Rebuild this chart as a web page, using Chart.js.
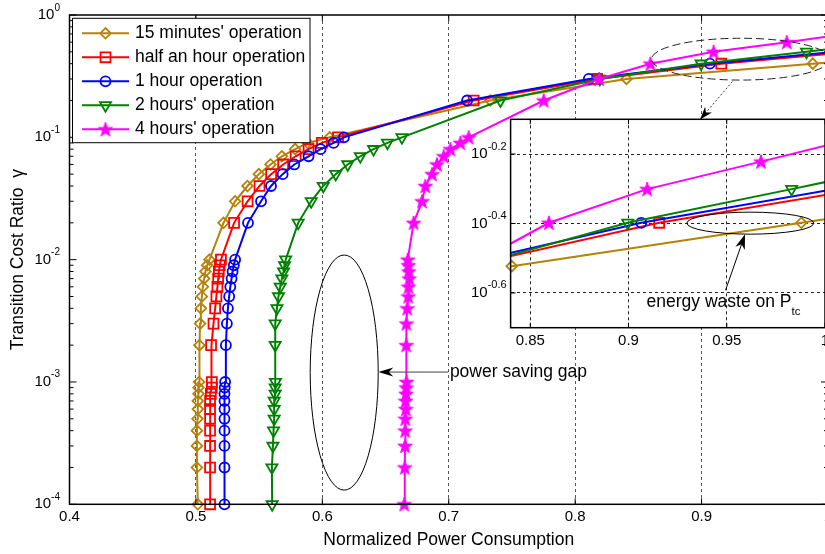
<!DOCTYPE html>
<html>
<head>
<meta charset="utf-8">
<script src="https://cdn.jsdelivr.net/npm/chart.js@4/dist/chart.umd.min.js"></script>
<style>
  html, body { margin: 0; padding: 0; background: #fff; overflow: hidden; width: 825px; height: 554px; }
  #wrap { position: relative; width: 825px; height: 554px; overflow: hidden; }
  #main { position: absolute; left: 0; top: 0; }
  #inset { position: absolute; left: 460px; top: 105px; }
</style>
</head>
<body>
<div id="wrap">
  <canvas id="main" width="870" height="554"></canvas>
  <canvas id="inset" width="400" height="260"></canvas>
</div>
<script>
// Transition cost ratio (y) shared by every curve
const gamma = [
  1e-4, 2e-4, 3e-4, 4e-4, 5e-4, 6e-4, 7e-4, 8e-4, 9e-4,
  1e-3, 2e-3, 3e-3, 4e-3, 5e-3, 6e-3, 7e-3, 8e-3, 9e-3,
  1e-2, 2e-2, 3e-2, 4e-2, 5e-2, 6e-2, 7e-2, 8e-2, 9e-2,
  0.1, 0.2, 0.3, 0.4, 0.5, 0.6, 0.7, 0.8
];

// Normalized power consumption for each operation period
const xQuarterHour = [
  0.5015, 0.5008, 0.5008, 0.5008, 0.5012, 0.5015, 0.5015, 0.5020, 0.5020,
  0.5025, 0.5028, 0.5033, 0.5039, 0.5047, 0.5055, 0.5065, 0.5075, 0.5089,
  0.5107, 0.5218, 0.5310, 0.5408, 0.5498, 0.5590, 0.5680, 0.5785, 0.5885,
  0.6058, 0.7329, 0.8406, 0.9880, 1.1000
];
const xHalfHour = [
  0.5112, 0.5112, 0.5112, 0.5112, 0.5112, 0.5112, 0.5112, 0.5118, 0.5126,
  0.5126, 0.5120, 0.5139, 0.5152, 0.5162, 0.5170, 0.5176, 0.5181, 0.5189,
  0.5198, 0.5302, 0.5409, 0.5503, 0.5595, 0.5690, 0.5789, 0.5891, 0.5997,
  0.6124, 0.7197, 0.8174, 0.9156, 1.0180
];
const xOneHour = [
  0.5226, 0.5226, 0.5226, 0.5226, 0.5226, 0.5226, 0.5226, 0.5226, 0.5228,
  0.5231, 0.5237, 0.5245, 0.5253, 0.5263, 0.5272, 0.5282, 0.5290, 0.5300,
  0.5310, 0.5412, 0.5515, 0.5594, 0.5686, 0.5778, 0.5891, 0.5986, 0.6089,
  0.6171, 0.7145, 0.8108, 0.9065, 1.0050
];
const xTwoHours = [
  0.5603, 0.5601, 0.5609, 0.5614, 0.5619, 0.5619, 0.5619, 0.5627, 0.5627,
  0.5629, 0.5627, 0.5627, 0.5641, 0.5653, 0.5667, 0.5680, 0.5693, 0.5701,
  0.5710, 0.5809, 0.5912, 0.6007, 0.6106, 0.6201, 0.6300, 0.6405, 0.6515,
  0.6630, 0.7409, 0.8195, 0.8996, 0.9830, 1.0500
];
const xFourHours = [
  0.6648, 0.6652, 0.6654, 0.6655, 0.6656, 0.6660, 0.6658, 0.6662, 0.6664,
  0.6666, 0.6664, 0.6665, 0.6672, 0.6680, 0.6682, 0.6688, 0.6684, 0.6680,
  0.6676, 0.6722, 0.6789, 0.6815, 0.6868, 0.6907, 0.6960, 0.7013, 0.7092,
  0.7158, 0.7751, 0.8190, 0.8595, 0.9095, 0.9674, 1.0150, 1.0600
];

const seriesNames = [
  "15 minutes' operation",
  "half an hour operation",
  "1 hour operation",
  "2 hours' operation",
  "4 hours' operation"
];

// Axis ticks
const xTicks = [0.4, 0.5, 0.6, 0.7, 0.8, 0.9, 1];
const yDecades = [-4, -3, -2, -1, 0];
const insetXTicks = [0.85, 0.9, 0.95, 1];
const insetYExponents = [-0.6, -0.4, -0.2];

const FONT = '"Liberation Sans", Arial, Helvetica, sans-serif';
Chart.defaults.font.family = FONT;
Chart.defaults.color = '#000';

// filled five-point star marker
const starMarker = (() => {
  const c = document.createElement('canvas');
  c.width = 18; c.height = 18;
  const g = c.getContext('2d');
  g.beginPath();
  for (let k = 0; k < 10; k++) {
    const r = k % 2 === 0 ? 7.6 : 3.0;
    const a = -Math.PI / 2 + k * Math.PI / 5;
    const px = 9 + r * Math.cos(a), py = 9.6 + r * Math.sin(a);
    if (k) g.lineTo(px, py); else g.moveTo(px, py);
  }
  g.closePath();
  g.fillStyle = '#ff00ff'; g.fill();
  g.strokeStyle = '#ff00ff'; g.lineWidth = 1; g.stroke();
  return c;
})();

const seriesX = [xQuarterHour, xHalfHour, xOneHour, xTwoHours, xFourHours];
const seriesStyle = [
  { color: '#b5820a', pointStyle: 'rectRot', radius: 5.3, rotation: 0 },
  { color: '#ff0000', pointStyle: 'rect', radius: 7, rotation: 0 },
  { color: '#0000ff', pointStyle: 'circle', radius: 5, rotation: 0 },
  { color: '#008000', pointStyle: 'triangle', radius: 6.4, rotation: 180 },
  { color: '#ff00ff', pointStyle: starMarker, radius: 7, rotation: 0 }
];

const toPoints = xs => xs.map((x, i) => ({ x: x, y: gamma[i] }));

function lineDataset(i, extra) {
  const st = seriesStyle[i];
  return Object.assign({
    label: seriesNames[i],
    data: toPoints(seriesX[i]),
    borderColor: st.color,
    backgroundColor: 'rgba(0,0,0,0)',
    borderWidth: 2,
    tension: 0,
    pointStyle: st.pointStyle,
    pointRadius: st.radius,
    pointHoverRadius: st.radius,
    pointRotation: st.rotation,
    pointBorderColor: st.color,
    pointBackgroundColor: 'rgba(0,0,0,0)',
    pointBorderWidth: 1.8,
    order: 4 - i
  }, extra || {});
}

// ---------- drawing helpers ----------
function drawMarker(ctx, st, x, y) {
  ctx.save();
  ctx.strokeStyle = st.color;
  ctx.fillStyle = 'rgba(0,0,0,0)';
  ctx.lineWidth = 1.8;
  if (Chart.helpers && Chart.helpers.drawPoint) {
    Chart.helpers.drawPoint(ctx, { pointStyle: st.pointStyle, radius: st.radius, rotation: st.rotation, borderWidth: 1.8 }, x, y);
  } else if (typeof st.pointStyle === 'object') {
    ctx.drawImage(st.pointStyle, x - st.pointStyle.width / 2, y - st.pointStyle.height / 2);
  } else {
    ctx.beginPath(); ctx.arc(x, y, st.radius, 0, 2 * Math.PI); ctx.stroke();
  }
  ctx.restore();
}

function arrow(ctx, x0, y0, x1, y1, o) {
  const ang = Math.atan2(y1 - y0, x1 - x0);
  const c = Math.cos(ang), s = Math.sin(ang);
  const bx = x1 - o.head * c, by = y1 - o.head * s;
  const nx = x1 - o.head * 0.7 * c, ny = y1 - o.head * 0.7 * s;
  ctx.save();
  ctx.strokeStyle = o.lineColor; ctx.lineWidth = o.lineWidth;
  ctx.setLineDash(o.dash || []);
  ctx.beginPath(); ctx.moveTo(x0, y0); ctx.lineTo(nx, ny); ctx.stroke();
  ctx.setLineDash([]);
  ctx.beginPath();
  ctx.moveTo(x1, y1);
  ctx.lineTo(bx - s * o.half, by + c * o.half);
  ctx.lineTo(nx, ny);
  ctx.lineTo(bx + s * o.half, by - c * o.half);
  ctx.closePath();
  ctx.fillStyle = o.headColor; ctx.fill();
  ctx.restore();
}

function powerLabel(ctx, xEnd, y, base, expText, baseSize, expSize, expRaise) {
  ctx.font = expSize + 'px ' + FONT;
  const ew = ctx.measureText(expText).width;
  ctx.fillStyle = '#000';
  ctx.textAlign = 'left';
  ctx.textBaseline = 'alphabetic';
  ctx.fillText(expText, xEnd - ew, y - expRaise);
  ctx.font = baseSize + 'px ' + FONT;
  ctx.textAlign = 'right';
  ctx.textBaseline = 'middle';
  ctx.fillText(base, xEnd - ew, y);
}

// ---------- main plot decorations ----------
const mainDecor = {
  id: 'mainDecor',
  afterDraw(chart) {
    const ctx = chart.ctx;
    const a = chart.chartArea;
    const xs = chart.scales.x, ys = chart.scales.y;
    const X = v => xs.getPixelForValue(v);
    const YL = lg => ys.getPixelForValue(Math.pow(10, lg));

    ctx.save();
    // annotations: power saving gap
    ctx.strokeStyle = '#000'; ctx.lineWidth = 1;
    {
      const cx = X(0.6173), cy = YL(-2.923);
      const rx = X(0.6173 + 0.0269) - cx, ry = YL(-2.923 - 0.961) - cy;
      ctx.beginPath(); ctx.ellipse(cx, cy, rx, ry, 0, 0, 2 * Math.PI); ctx.stroke();
      arrow(ctx, X(0.6995), YL(-2.919), X(0.6443), YL(-2.919),
        { lineColor: '#444', lineWidth: 1, headColor: '#000', head: 15, half: 4.5 });
      ctx.fillStyle = '#000';
      ctx.font = '17.5px ' + FONT;
      ctx.textAlign = 'left'; ctx.textBaseline = 'middle';
      ctx.fillText('power saving gap', X(0.7009), YL(-2.919));
    }
    // dashed ellipse around the high-ratio region and pointer to the zoomed view
    {
      const cx = X(0.9309), cy = YL(-0.361);
      const rx = X(0.9309 + 0.0705) - cx, ry = YL(-0.361 - 0.171) - cy;
      ctx.save();
      ctx.setLineDash([8, 4]);
      ctx.strokeStyle = '#222'; ctx.lineWidth = 1;
      ctx.beginPath(); ctx.ellipse(cx, cy, rx, ry, 0, 0, 2 * Math.PI); ctx.stroke();
      ctx.restore();
      arrow(ctx, X(0.9243), YL(-0.545), X(0.8988), YL(-0.854),
        { lineColor: '#333', lineWidth: 1, dash: [2, 2], headColor: '#000', head: 13, half: 4.5 });
    }

    // axes box
    ctx.strokeStyle = '#000'; ctx.lineWidth = 1.5;
    ctx.strokeRect(a.left, a.top, a.right - a.left, a.bottom - a.top);
    // inward ticks
    ctx.lineWidth = 1;
    ctx.beginPath();
    xTicks.forEach(v => {
      const p = X(v);
      ctx.moveTo(p, a.bottom); ctx.lineTo(p, a.bottom - 6);
      ctx.moveTo(p, a.top); ctx.lineTo(p, a.top + 6);
    });
    yDecades.forEach((d, k) => {
      const p = YL(d);
      ctx.moveTo(a.left, p); ctx.lineTo(a.left + 7, p);
      ctx.moveTo(a.right, p); ctx.lineTo(a.right - 7, p);
      if (k < yDecades.length - 1) {
        for (let m = 2; m <= 9; m++) {
          const q = YL(d + Math.log10(m));
          ctx.moveTo(a.left, q); ctx.lineTo(a.left + 4, q);
          ctx.moveTo(a.right, q); ctx.lineTo(a.right - 4, q);
        }
      }
    });
    ctx.stroke();

    // y tick labels (powers of ten)
    yDecades.forEach(d => {
      powerLabel(ctx, a.left - 9.5, YL(d), '10', String(d), 15, 10, 4.5);
    });

    // legend
    const lx = 72.5, ly = 18.3, lw = 237.5, lh = 124.4;
    ctx.fillStyle = '#fff';
    ctx.fillRect(lx, ly, lw, lh);
    ctx.strokeStyle = '#000'; ctx.lineWidth = 1;
    ctx.strokeRect(lx, ly, lw, lh);
    seriesNames.forEach((name, i) => {
      const y = 33.3 + i * 24;
      const st = seriesStyle[i];
      ctx.strokeStyle = st.color; ctx.lineWidth = 2;
      ctx.beginPath(); ctx.moveTo(82, y); ctx.lineTo(129, y); ctx.stroke();
      drawMarker(ctx, st, 105.5, y);
      ctx.fillStyle = '#000';
      ctx.font = '17.5px ' + FONT;
      ctx.textAlign = 'left'; ctx.textBaseline = 'middle';
      ctx.fillText(name, 135, y);
    });
    ctx.restore();
  }
};

new Chart(document.getElementById('main'), {
  type: 'line',
  data: {
    datasets: seriesX.map((_, i) => lineDataset(i, { clip: { left: 10, top: 10, right: 0, bottom: 10 } }))
  },
  options: {
    responsive: false,
    maintainAspectRatio: false,
    animation: false,
    events: [],
    layout: { padding: { left: 0, top: 15, right: 42, bottom: 0 } },
    plugins: { legend: { display: false }, tooltip: { enabled: false } },
    scales: {
      x: {
        type: 'linear',
        min: 0.4, max: 1,
        afterBuildTicks: s => { s.ticks = xTicks.map(v => ({ value: v })); },
        afterFit: s => { s.height = 49.7; s.paddingLeft = 0; s.paddingRight = 0; },
        ticks: {
          font: { size: 15 }, color: '#000', padding: 3.4, maxRotation: 0, autoSkip: false,
          callback: v => String(Number(Number(v).toFixed(2)))
        },
        grid: { display: true, drawTicks: false, color: '#555', lineWidth: 1 },
        border: { display: false, dash: [3, 3] },
        title: {
          display: true, text: 'Normalized Power Consumption', color: '#000',
          font: { size: 17.5 }, padding: { top: 0, bottom: 3.5 }
        }
      },
      y: {
        type: 'logarithmic',
        min: 1e-4, max: 1,
        afterBuildTicks: s => { s.ticks = yDecades.map(d => ({ value: Math.pow(10, d) })); },
        afterFit: s => { s.width = 69.5; s.paddingTop = 0; s.paddingBottom = 0; },
        ticks: { display: false },
        grid: { display: false },
        border: { display: false },
        title: {
          display: true, text: 'Transition Cost Ratio  \u03b3', color: '#000',
          font: { size: 17.5 }, padding: { top: 7.5, bottom: 0 }
        }
      }
    }
  },
  plugins: [mainDecor]
});

// ---------- zoomed view ----------
const insetDecor = {
  id: 'insetDecor',
  beforeDraw(chart) {
    const a = chart.chartArea, ctx = chart.ctx;
    ctx.save();
    ctx.fillStyle = '#fff';
    ctx.fillRect(a.left, a.top, a.right - a.left, a.bottom - a.top);
    ctx.restore();
  },
  afterDraw(chart) {
    const ctx = chart.ctx;
    const a = chart.chartArea;
    const xs = chart.scales.x, ys = chart.scales.y;
    const X = v => xs.getPixelForValue(v);
    const YL = lg => ys.getPixelForValue(Math.pow(10, lg));
    ctx.save();
    // energy waste annotation
    {
      const cx = X(0.962), cy = YL(-0.399);
      const rx = X(0.962 + 0.0323) - cx, ry = YL(-0.399 - 0.0317) - cy;
      ctx.strokeStyle = '#000'; ctx.lineWidth = 1;
      ctx.beginPath(); ctx.ellipse(cx, cy, rx, ry, 0, 0, 2 * Math.PI); ctx.stroke();
      arrow(ctx, X(0.9494), YL(-0.592), X(0.9593), YL(-0.431),
        { lineColor: '#000', lineWidth: 1, headColor: '#000', head: 15, half: 5 });
      const tx = X(0.9092), ty = YL(-0.6404);
      ctx.fillStyle = '#000';
      ctx.textAlign = 'left'; ctx.textBaseline = 'alphabetic';
      ctx.font = '17.5px ' + FONT;
      const main = 'energy waste on P';
      ctx.fillText(main, tx, ty);
      const w = ctx.measureText(main).width;
      ctx.font = '11.5px ' + FONT;
      ctx.fillText('tc', tx + w, ty + 8);
    }
    // box
    ctx.strokeStyle = '#000'; ctx.lineWidth = 1.5;
    ctx.strokeRect(a.left, a.top, a.right - a.left, a.bottom - a.top);
    ctx.lineWidth = 1;
    ctx.beginPath();
    insetXTicks.forEach(v => {
      const p = X(v);
      ctx.moveTo(p, a.bottom); ctx.lineTo(p, a.bottom - 5);
      ctx.moveTo(p, a.top); ctx.lineTo(p, a.top + 5);
    });
    insetYExponents.forEach(e => {
      const p = YL(e);
      ctx.moveTo(a.left, p); ctx.lineTo(a.left + 5, p);
    });
    ctx.stroke();
    // y tick labels
    insetYExponents.forEach(e => {
      powerLabel(ctx, a.left - 4, YL(e), '10', e.toFixed(1), 15, 11, 4.5);
    });
    ctx.restore();
  }
};

const insetDatasets = [];
seriesX.forEach((_, i) => {
  insetDatasets.push(lineDataset(i, { pointRadius: 0, pointHoverRadius: 0, clip: 0 }));
});
seriesX.forEach((_, i) => {
  insetDatasets.push(lineDataset(i, { showLine: false, clip: { left: 10, top: 10, right: 0, bottom: 10 },
    data: toPoints(seriesX[i]).filter(p => p.x >= 0.84 && p.x <= 1.0 && p.y >= Math.pow(10, -0.7) && p.y <= Math.pow(10, -0.1)) }));
});

new Chart(document.getElementById('inset'), {
  type: 'line',
  data: { datasets: insetDatasets },
  options: {
    responsive: false,
    maintainAspectRatio: false,
    animation: false,
    events: [],
    layout: { padding: { left: 0, top: 14.3, right: 35, bottom: 0 } },
    plugins: { legend: { display: false }, tooltip: { enabled: false } },
    scales: {
      x: {
        type: 'linear',
        min: 0.84, max: 1.0,
        afterBuildTicks: s => { s.ticks = insetXTicks.map(v => ({ value: v })); },
        afterFit: s => { s.height = 37.3; s.paddingLeft = 0; s.paddingRight = 0; },
        ticks: {
          font: { size: 15 }, color: '#000', padding: 4.3, maxRotation: 0, autoSkip: false,
          callback: v => String(Number(Number(v).toFixed(2)))
        },
        grid: { display: true, drawTicks: false, color: '#222', lineWidth: 1 },
        border: { display: false, dash: [3, 3] }
      },
      y: {
        type: 'logarithmic',
        min: Math.pow(10, -0.7), max: Math.pow(10, -0.1),
        afterBuildTicks: s => { s.ticks = insetYExponents.map(e => ({ value: Math.pow(10, e) })); },
        afterFit: s => { s.width = 50.6; s.paddingTop = 0; s.paddingBottom = 0; },
        ticks: { display: false },
        grid: { display: true, drawTicks: false, color: '#222', lineWidth: 1 },
        border: { display: false, dash: [3, 3] }
      }
    }
  },
  plugins: [insetDecor]
});
</script>
</body>
</html>
